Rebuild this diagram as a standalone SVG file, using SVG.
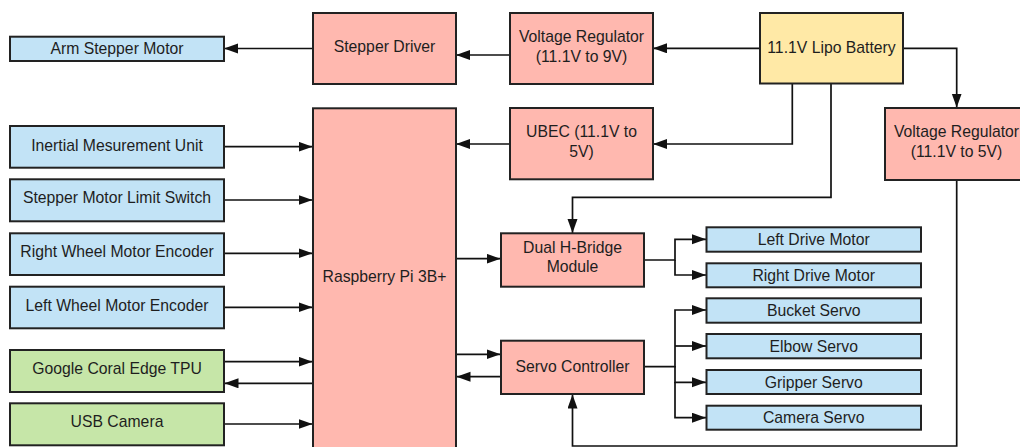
<svg xmlns="http://www.w3.org/2000/svg" width="1020" height="447" viewBox="0 0 1020 447">
<style>
.b{stroke:#222;stroke-width:2}
.pk{fill:#FFB8AF}
.bl{fill:#C2E3F6}
.gr{fill:#C6E6A8}
.yl{fill:#FFE9A6}
text{font-family:"Liberation Sans",Arial,sans-serif;font-size:15.75px;fill:#1e1e1e;text-anchor:middle}
.c path{fill:none;stroke:#111;stroke-width:1.7}
</style>
<defs>
<marker id="a" markerUnits="userSpaceOnUse" markerWidth="15" markerHeight="11" refX="14" refY="5" orient="auto">
<path d="M0,0 L14,5 L0,10 z" fill="#111"/>
</marker>
</defs>
<rect width="1020" height="447" fill="#fff"/>

<g class="c" marker-end="url(#a)">
<path d="M313,48.5 H224" marker-end="url(#a)"/>
<path d="M509,55 H456" marker-end="url(#a)"/>
<path d="M760,48.3 H653" marker-end="url(#a)"/>
<path d="M792.3,84 V144 H653" marker-end="url(#a)"/>
<path d="M509,144 H456" marker-end="url(#a)"/>
<path d="M831,84 V197.3 H572.5 V233" marker-end="url(#a)"/>
<path d="M903,48.3 H956.7 V107.5" marker-end="url(#a)"/>
<path d="M956.7,180 V446 H572.5 V394.5" marker-end="url(#a)"/>
<path d="M224,146.7 H312.5" marker-end="url(#a)"/>
<path d="M224,200 H312.5" marker-end="url(#a)"/>
<path d="M224,253.3 H312.5" marker-end="url(#a)"/>
<path d="M224,307.3 H312.5" marker-end="url(#a)"/>
<path d="M224,361.7 H312.5" marker-end="url(#a)"/>
<path d="M313,383.3 H224.5" marker-end="url(#a)"/>
<path d="M224,424 H312.5" marker-end="url(#a)"/>
<path d="M456,258.7 H500.5" marker-end="url(#a)"/>
<path d="M456,354.3 H500.5" marker-end="url(#a)"/>
<path d="M501,376.7 H456.5" marker-end="url(#a)"/>
<path d="M644,260 H675 V239.3 H706" marker-end="url(#a)"/>
<path d="M675,260 V275 H706" marker-end="url(#a)"/>
<path d="M644,366.7 H675 V310 H706" marker-end="url(#a)"/>
<path d="M675,346 H706" marker-end="url(#a)"/>
<path d="M675,366 V382.3 H706" marker-end="url(#a)"/>
<path d="M675,382 V417.7 H706" marker-end="url(#a)"/>
</g>

<g id="arm-stepper-motor"><rect class="b bl" x="10" y="36.7" width="214" height="24.3"/><text x="117" y="54.3">Arm Stepper Motor</text></g>
<g id="stepper-driver"><rect class="b pk" x="313" y="13" width="143" height="71"/><text x="384.5" y="52.3">Stepper Driver</text></g>
<g id="voltage-regulator-9v"><rect class="b pk" x="510" y="13" width="143" height="71"/><text x="581.5" y="41.7">Voltage Regulator</text><text x="581.5" y="61.7">(11.1V to 9V)</text></g>
<g id="battery"><rect class="b yl" x="760" y="13" width="143" height="70.5"/><text x="831.5" y="53.3">11.1V Lipo Battery</text></g>
<g id="ubec"><rect class="b pk" x="510" y="108" width="143" height="71.3"/><text x="581.5" y="137.3">UBEC (11.1V to</text><text x="581.5" y="157.3">5V)</text></g>
<g id="voltage-regulator-5v"><rect class="b pk" x="885" y="108" width="143" height="72"/><text x="956.5" y="137.3">Voltage Regulator</text><text x="956.5" y="157.3">(11.1V to 5V)</text></g>
<g id="raspberry-pi"><rect class="b pk" x="313" y="108.3" width="143" height="345"/><text x="384.5" y="281.7">Raspberry Pi 3B+</text></g>
<g id="imu"><rect class="b bl" x="10" y="126" width="214" height="41.7"/><text x="117" y="150.7">Inertial Mesurement Unit</text></g>
<g id="limit-switch"><rect class="b bl" x="10" y="179.3" width="214" height="42"/><text x="117" y="203.3">Stepper Motor Limit Switch</text></g>
<g id="right-encoder"><rect class="b bl" x="10" y="233.3" width="214" height="41.7"/><text x="117" y="256.7">Right Wheel Motor Encoder</text></g>
<g id="left-encoder"><rect class="b bl" x="10" y="286.7" width="214" height="41.6"/><text x="117" y="310.7">Left Wheel Motor Encoder</text></g>
<g id="coral-tpu"><rect class="b gr" x="10" y="350" width="214" height="42"/><text x="117" y="374">Google Coral Edge TPU</text></g>
<g id="usb-camera"><rect class="b gr" x="10" y="403.3" width="214" height="42"/><text x="117" y="427.3">USB Camera</text></g>
<g id="h-bridge"><rect class="b pk" x="501" y="233.3" width="143" height="53.4"/><text x="572.5" y="253.3">Dual H-Bridge</text><text x="572.5" y="272.3">Module</text></g>
<g id="servo-controller"><rect class="b pk" x="501" y="340.7" width="143" height="53.3"/><text x="572.5" y="371.7">Servo Controller</text></g>
<g id="left-drive-motor"><rect class="b bl" x="706.5" y="227.3" width="214.5" height="24.4"/><text x="813.75" y="245">Left Drive Motor</text></g>
<g id="right-drive-motor"><rect class="b bl" x="706.5" y="263.3" width="214.5" height="24"/><text x="813.75" y="281">Right Drive Motor</text></g>
<g id="bucket-servo"><rect class="b bl" x="706.5" y="298.3" width="214.5" height="24.4"/><text x="813.75" y="316">Bucket Servo</text></g>
<g id="elbow-servo"><rect class="b bl" x="706.5" y="334" width="214.5" height="24.3"/><text x="813.75" y="351.7">Elbow Servo</text></g>
<g id="gripper-servo"><rect class="b bl" x="706.5" y="370" width="214.5" height="24"/><text x="813.75" y="387.7">Gripper Servo</text></g>
<g id="camera-servo"><rect class="b bl" x="706.5" y="405.7" width="214.5" height="24"/><text x="813.75" y="423.3">Camera Servo</text></g>
</svg>
